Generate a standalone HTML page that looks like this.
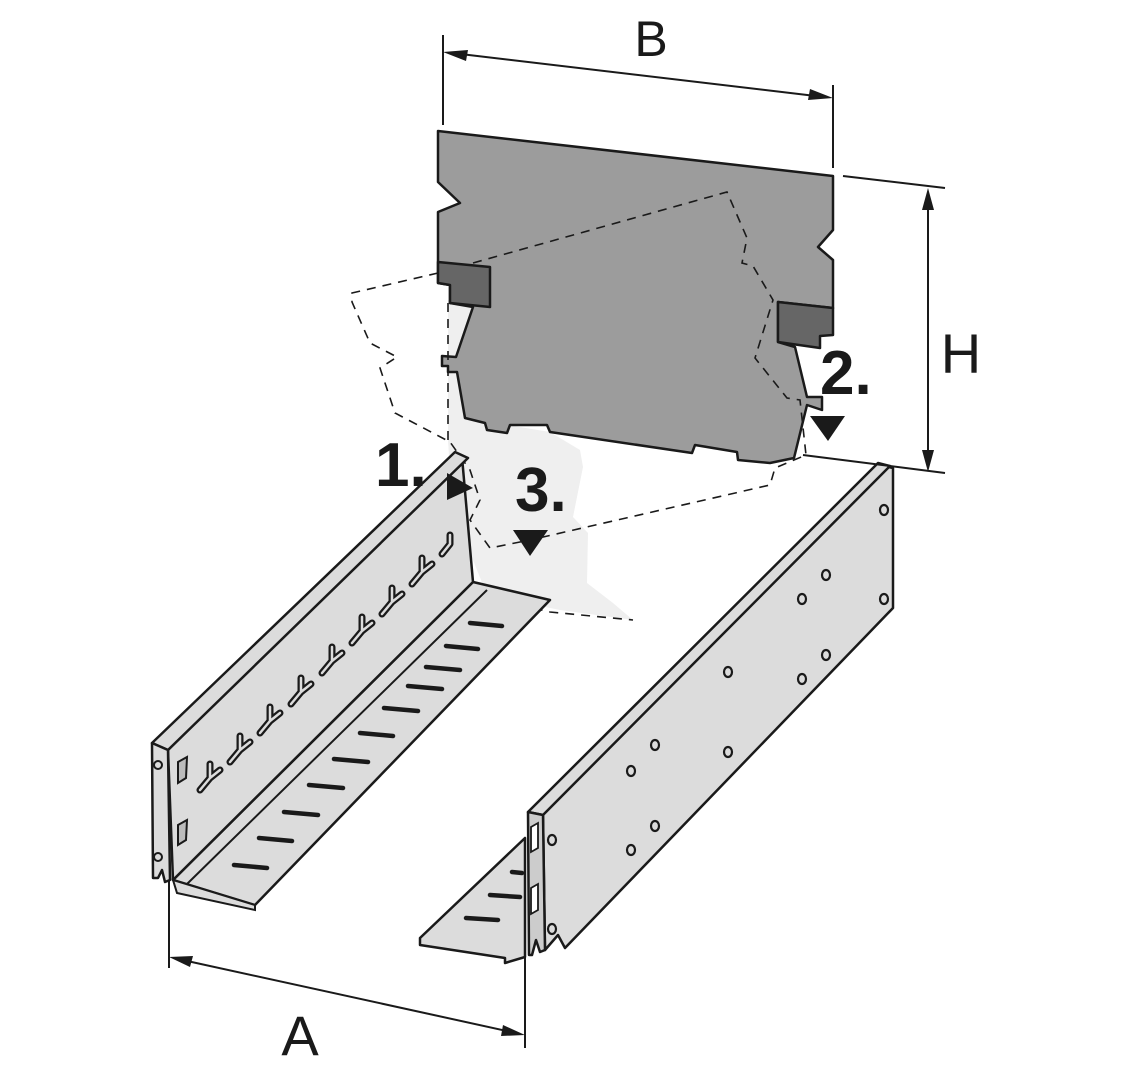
<!DOCTYPE html>
<html><head><meta charset="utf-8"><style>
html,body{margin:0;padding:0;background:#fff}
svg{display:block}
text{font-family:"Liberation Sans",sans-serif}
</style></head><body>
<svg width="1125" height="1080" viewBox="0 0 1125 1080" xmlns="http://www.w3.org/2000/svg">
<polygon points="448,300 474,307 458,362 465,418 550,432 580,450 583,467 573,517 588,533 587,583 613,603 633,620 560,610 487,595 473,560 452,505 448,440" fill="#efefef"/>

<polygon points="438,131 833,176 833,230 818,247 833,260 833,308 778,302 778,342 795,347 807,397 822,397 822,410 807,405 794,458 770,463 738,460 737,452 695,445 692,453 550,432 547,425 510,425 507,433 487,430 485,423 465,418 457,372 448,372 448,366 442,366 442,356 456,357 473,307 450,303 450,285 438,283 438,212 460,203 438,182" fill="#9c9c9c" stroke="#1a1a1a" stroke-width="2.5" stroke-linejoin="round"/>
<polygon points="438,262 490,267 490,307 450,303 450,285 438,283" fill="#666" stroke="#1a1a1a" stroke-width="2.5" stroke-linejoin="round"/>
<polygon points="778,302 833,308 833,335 820,336 820,348 778,342" fill="#666" stroke="#1a1a1a" stroke-width="2.5" stroke-linejoin="round"/>

<g fill="none" stroke="#1a1a1a" stroke-width="1.6" stroke-dasharray="9,7">
<polyline points="473,263 727,192 747,238 742,263 753,266 773,300 755,358 787,398 800,400 806,455 775,468 770,485 530,540"/>
<polyline points="438,273 352,293 352,302 370,343 397,357 380,368 395,413 450,442 470,470 480,500 470,520 490,548 530,540"/>
<polyline points="448,303 448,440"/>
<polyline points="487,597 550,612 633,620"/>
</g>

<!-- left rail -->
<polygon points="173,880 473,582 550,600 255,905" fill="#dcdcdc" stroke="#1a1a1a" stroke-width="2.5" stroke-linejoin="round"/>
<polygon points="173,880 177,893 255,910 255,905" fill="#dcdcdc" stroke="#1a1a1a" stroke-width="2"/>
<line x1="187" y1="884" x2="487" y2="590" stroke="#1a1a1a" stroke-width="2"/>
<polygon points="168,750 462,457 473,582 173,880" fill="#dcdcdc" stroke="#1a1a1a" stroke-width="2.5" stroke-linejoin="round"/>
<polygon points="152,743 455,452 468,458 168,750" fill="#dcdcdc" stroke="#1a1a1a" stroke-width="2.5" stroke-linejoin="round"/>
<polygon points="152,743 168,750 170,880 165,882 162,870 158,878 153,878" fill="#dcdcdc" stroke="#1a1a1a" stroke-width="2.5" stroke-linejoin="round"/>
<circle cx="158" cy="765" r="4" fill="none" stroke="#1a1a1a" stroke-width="2"/>
<circle cx="158" cy="857" r="4" fill="none" stroke="#1a1a1a" stroke-width="2"/>
<polygon points="178,762 187,757 186,778 178,783" fill="#bbb" stroke="#1a1a1a" stroke-width="2"/>
<polygon points="178,825 187,820 186,840 178,845" fill="#bbb" stroke="#1a1a1a" stroke-width="2"/>
<g id="ys" fill="none" stroke-linecap="round" stroke-linejoin="round">
<g stroke="#1a1a1a" stroke-width="7">
<path d="M200,790 L210,778 L210,764 M210,778 L220,770"/>
<path d="M230,762 L240,750 L240,736 M240,750 L250,742"/>
<path d="M260,733 L270,721 L270,707 M270,721 L280,713"/>
<path d="M291,704 L301,692 L301,678 M301,692 L311,684"/>
<path d="M322,673 L332,661 L332,647 M332,661 L342,653"/>
<path d="M352,643 L362,631 L362,617 M362,631 L372,623"/>
<path d="M382,614 L392,602 L392,588 M392,602 L402,594"/>
<path d="M412,584 L422,572 L422,558 M422,572 L432,564"/>
<path d="M442,554 L450,544 L450,535"/>
</g>
<g stroke="#dcdcdc" stroke-width="2.5">
<path d="M200,790 L210,778 L210,764 M210,778 L220,770"/>
<path d="M230,762 L240,750 L240,736 M240,750 L250,742"/>
<path d="M260,733 L270,721 L270,707 M270,721 L280,713"/>
<path d="M291,704 L301,692 L301,678 M301,692 L311,684"/>
<path d="M322,673 L332,661 L332,647 M332,661 L342,653"/>
<path d="M352,643 L362,631 L362,617 M362,631 L372,623"/>
<path d="M382,614 L392,602 L392,588 M392,602 L402,594"/>
<path d="M412,584 L422,572 L422,558 M422,572 L432,564"/>
<path d="M442,554 L450,544 L450,535"/>
</g>
</g>
<g stroke="#1a1a1a" stroke-width="4.5" stroke-linecap="round">
<line x1="234" y1="865" x2="267" y2="868"/>
<line x1="259" y1="838" x2="292" y2="841"/>
<line x1="284" y1="812" x2="318" y2="815"/>
<line x1="309" y1="785" x2="343" y2="788"/>
<line x1="334" y1="759" x2="368" y2="762"/>
<line x1="360" y1="733" x2="393" y2="736"/>
<line x1="384" y1="708" x2="418" y2="711"/>
<line x1="408" y1="686" x2="442" y2="689"/>
<line x1="426" y1="667" x2="460" y2="670"/>
<line x1="446" y1="646" x2="478" y2="649"/>
<line x1="470" y1="623" x2="502" y2="626"/>
</g>

<!-- right rail -->
<polygon points="420,938 525,838 525,957 505,963 505,958 420,945" fill="#dcdcdc" stroke="#1a1a1a" stroke-width="2.5" stroke-linejoin="round"/>
<g stroke="#1a1a1a" stroke-width="4.5" stroke-linecap="round">
<line x1="466" y1="918" x2="498" y2="920"/>
<line x1="490" y1="895" x2="520" y2="897"/>
<line x1="512" y1="872" x2="522" y2="873"/>
</g>
<polygon points="543,813 880,465 893,468 893,608 565,948 558,935 545,950" fill="#dcdcdc" stroke="#1a1a1a" stroke-width="2.5" stroke-linejoin="round"/>
<polygon points="528,812 878,463 890,466 543,815" fill="#dcdcdc" stroke="#1a1a1a" stroke-width="2.5" stroke-linejoin="round"/>
<polygon points="528,812 543,815 545,950 540,952 536,940 532,955 529,955" fill="#ccc" stroke="#1a1a1a" stroke-width="2.5" stroke-linejoin="round"/>
<polygon points="531,827 538,823 538,848 531,852" fill="#fff" stroke="#1a1a1a" stroke-width="1.8"/>
<polygon points="531,888 538,884 538,910 531,914" fill="#fff" stroke="#1a1a1a" stroke-width="1.8"/>
<g fill="none" stroke="#1a1a1a" stroke-width="2.2">
<ellipse cx="884" cy="510" rx="4" ry="5"/>
<ellipse cx="884" cy="599" rx="4" ry="5"/>
<ellipse cx="826" cy="575" rx="4" ry="5"/>
<ellipse cx="802" cy="599" rx="4" ry="5"/>
<ellipse cx="826" cy="655" rx="4" ry="5"/>
<ellipse cx="802" cy="679" rx="4" ry="5"/>
<ellipse cx="728" cy="672" rx="4" ry="5"/>
<ellipse cx="728" cy="752" rx="4" ry="5"/>
<ellipse cx="655" cy="745" rx="4" ry="5"/>
<ellipse cx="631" cy="771" rx="4" ry="5"/>
<ellipse cx="655" cy="826" rx="4" ry="5"/>
<ellipse cx="631" cy="850" rx="4" ry="5"/>
<ellipse cx="552" cy="840" rx="4" ry="5"/>
<ellipse cx="552" cy="929" rx="4" ry="5"/>
</g>

<g stroke="#1a1a1a" stroke-width="2" fill="none">
<line x1="443" y1="35" x2="443" y2="125"/>
<line x1="833" y1="85" x2="833" y2="168"/>
<line x1="452" y1="53" x2="824" y2="97"/>
<line x1="843" y1="176" x2="945" y2="188"/>
<line x1="803" y1="455" x2="945" y2="473"/>
<line x1="928" y1="196" x2="928" y2="464"/>
<line x1="169" y1="880" x2="169" y2="968"/>
<line x1="525" y1="955" x2="525" y2="1048"/>
<line x1="178" y1="959" x2="516" y2="1033"/>
</g>
<g fill="#1a1a1a">
<polygon points="443,52 468,50 466,61"/>
<polygon points="833,98 808,100 810,89"/>
<polygon points="928,188 922,210 934,210"/>
<polygon points="928,472 922,450 934,450"/>
<polygon points="169,957 193,956 190,967"/>
<polygon points="525,1035 501,1036 503,1025"/>
<polygon points="447,473 447,500 473,488"/>
<polygon points="810,416 845,416 828,441"/>
<polygon points="513,530 548,530 530,556"/>
</g>
<text x="651" y="56" font-size="50" text-anchor="middle" fill="#1a1a1a">B</text>
<text x="961" y="373" font-size="56" text-anchor="middle" fill="#1a1a1a">H</text>
<text x="300" y="1055" font-size="56" text-anchor="middle" fill="#1a1a1a">A</text>
<text x="375" y="486" font-size="62" font-weight="bold" fill="#1a1a1a">1.</text>
<text x="820" y="394" font-size="62" font-weight="bold" fill="#1a1a1a">2.</text>
<text x="515" y="511" font-size="62" font-weight="bold" fill="#1a1a1a">3.</text>
</svg>
</body></html>
